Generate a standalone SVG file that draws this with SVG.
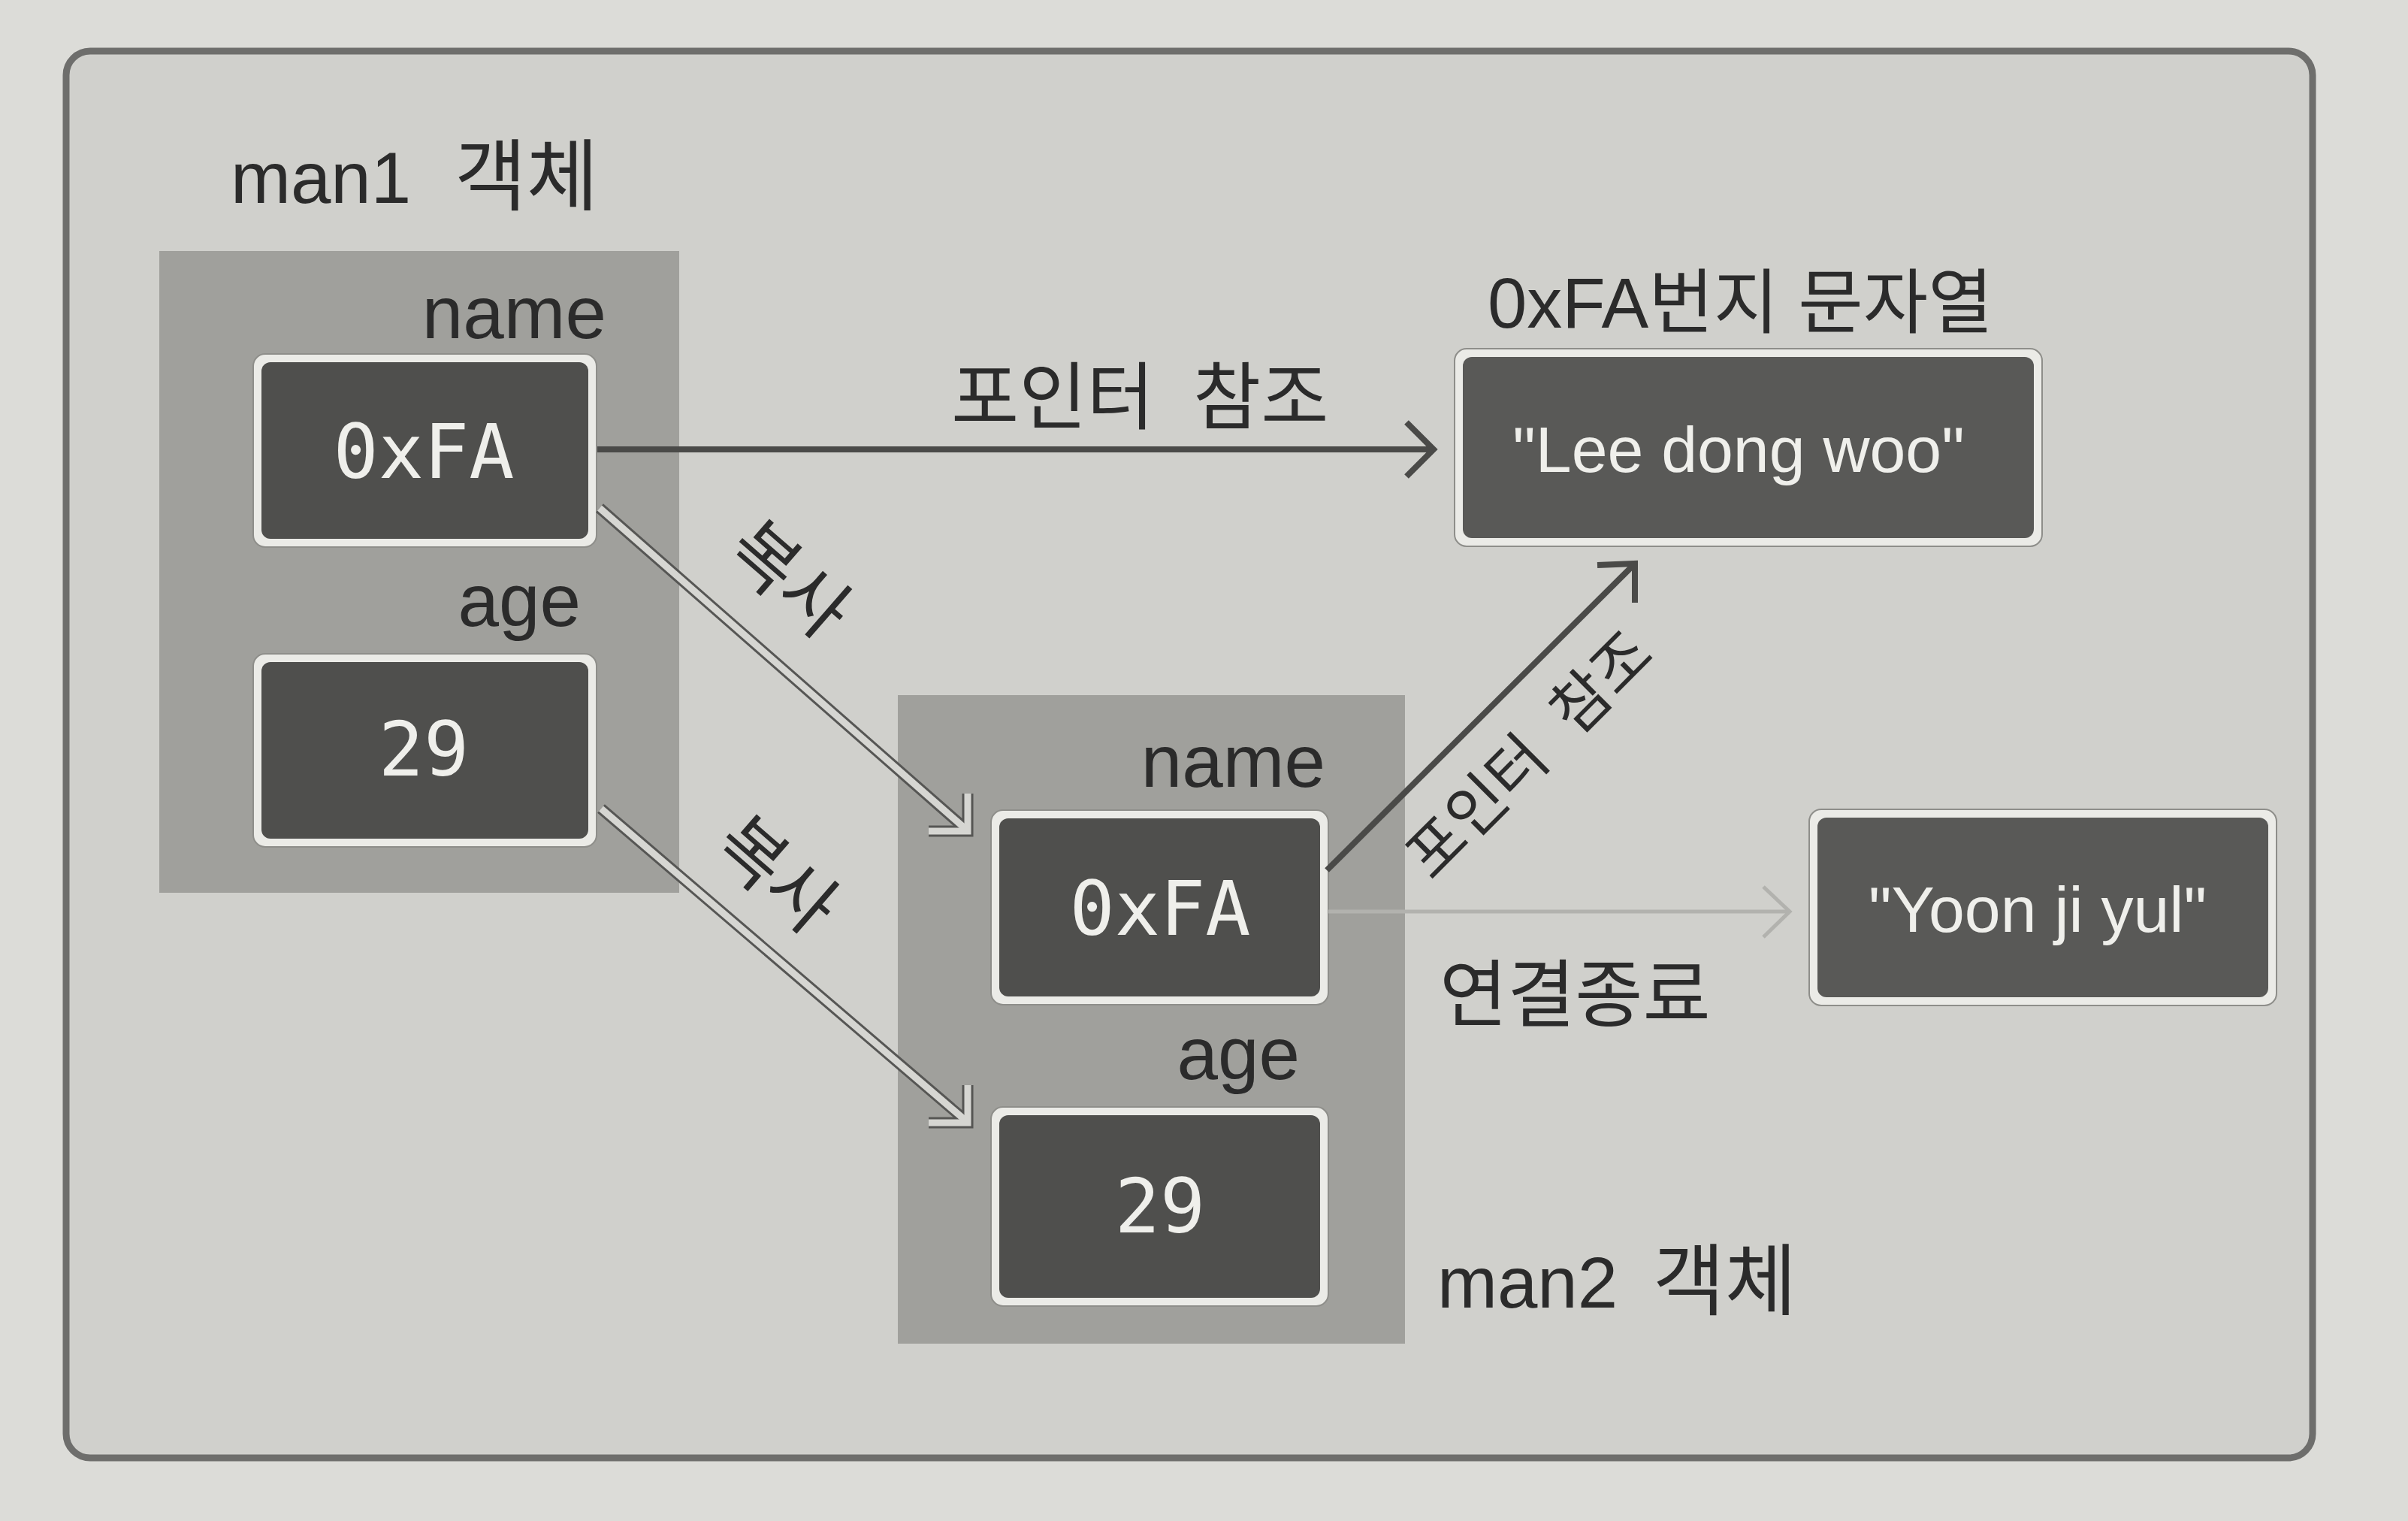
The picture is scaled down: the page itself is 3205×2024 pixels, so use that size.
<svg xmlns="http://www.w3.org/2000/svg" width="3205" height="2024" viewBox="0 0 3205 2024">
<style>
.lbl{font-family:'Liberation Sans','Noto Sans CJK KR',sans-serif;fill:#2b2b2b}
.kr{font-family:'Noto Sans CJK KR','Liberation Sans',sans-serif;fill:#2b2b2b}
.mono{font-family:'DejaVu Sans Mono','Liberation Mono',monospace;fill:#efefeb;font-size:100px;text-anchor:middle}
.str{font-family:'Liberation Sans',sans-serif;fill:#efefeb;font-size:86px;text-anchor:middle}
.obj{fill:#a0a09c}
.vo{fill:#ebebe7;stroke:#8e8e8a;stroke-width:2}
.vi{fill:#4f4f4d}
.si{fill:#595957}
.ptr{fill:none;stroke:#4a4a48;stroke-width:8;stroke-linejoin:miter}
.cpo{fill:none;stroke:#565654;stroke-width:15;stroke-linejoin:miter;stroke-linecap:butt}
.cpi{fill:none;stroke:#d6d6d2;stroke-width:9;stroke-linejoin:miter;stroke-linecap:butt}
.brk{fill:none;stroke:#b2b2ae;stroke-width:5}
</style>
<rect x="0" y="0" width="3205" height="2024" fill="#dcdcd8"/>
<rect x="88" y="68" width="2990" height="1872" rx="32" fill="#d0d0cc" stroke="#6e6e6c" stroke-width="9"/>

<g id="man1">
  <text class="lbl" x="307" y="270" font-size="96">man1</text>
  <text class="kr" x="605" y="272" font-size="104">객체</text>
  <rect class="obj" x="212" y="334" width="692" height="854"/>
  <text class="lbl" x="807" y="450" font-size="98" text-anchor="end">name</text>
  <text class="lbl" x="773" y="833" font-size="98" text-anchor="end">age</text>
</g>
<g id="man1-name">
  <rect class="vo" x="337" y="471" width="457" height="257" rx="16"/>
  <rect class="vi" x="348" y="482" width="435" height="235" rx="12"/>
  <text class="mono" x="564" y="636">0xFA</text>
</g>
<g id="man1-age">
  <rect class="vo" x="337" y="870" width="457" height="257" rx="16"/>
  <rect class="vi" x="348" y="881" width="435" height="235" rx="12"/>
  <text class="mono" x="564" y="1032">29</text>
</g>

<g id="man2">
  <rect class="obj" x="1195" y="925" width="675" height="863"/>
  <text class="lbl" x="1764" y="1047" font-size="98" text-anchor="end">name</text>
  <text class="lbl" x="1730" y="1436" font-size="98" text-anchor="end">age</text>
  <text class="lbl" x="1913" y="1740" font-size="96">man2</text>
  <text class="kr" x="2200" y="1742" font-size="104">객체</text>
</g>
<g id="man2-name">
  <rect class="vo" x="1319" y="1078" width="449" height="259" rx="16"/>
  <rect class="vi" x="1330" y="1089" width="427" height="237" rx="12"/>
  <text class="mono" x="1544" y="1244">0xFA</text>
</g>
<g id="man2-age">
  <rect class="vo" x="1319" y="1473" width="449" height="265" rx="16"/>
  <rect class="vi" x="1330" y="1484" width="427" height="243" rx="12"/>
  <text class="mono" x="1544" y="1640">29</text>
</g>

<g id="str-lee">
  <text class="lbl" x="1980" y="436" font-size="94">0xFA번지 문자열</text>
  <rect class="vo" x="1936" y="464" width="782" height="263" rx="16"/>
  <rect class="si" x="1947" y="475" width="760" height="241" rx="12"/>
  <text class="str" x="2314" y="628">"Lee dong woo"</text>
</g>
<g id="str-yoon">
  <rect class="vo" x="2408" y="1077" width="622" height="261" rx="16"/>
  <rect class="si" x="2419" y="1088" width="600" height="239" rx="12"/>
  <text class="str" x="2712" y="1240">"Yoon ji yul"</text>
</g>

<g id="connectors">
  <!-- pointer from man1.name -->
  <line class="ptr" x1="795" y1="598" x2="1906" y2="598"/>
  <polyline class="ptr" points="1872,562 1908,598 1872,634"/>
  <text class="kr" font-size="98" y="563"><tspan x="1266">포인터</tspan><tspan x="1588">참조</tspan></text>

  <!-- copy arrows -->
  <line class="cpo" x1="798" y1="676" x2="1284" y2="1102"/>
  <polyline class="cpo" points="1288,1056 1288,1106 1236,1106"/>
  <line class="cpi" x1="798" y1="676" x2="1284" y2="1102"/>
  <polyline class="cpi" points="1288,1056 1288,1106 1236,1106"/>
  <text class="kr" font-size="96" text-anchor="middle" transform="translate(1050,772) rotate(41)" x="0" y="33">복사</text>

  <line class="cpo" x1="800" y1="1076" x2="1284" y2="1490"/>
  <polyline class="cpo" points="1288,1444 1288,1494 1236,1494"/>
  <line class="cpi" x1="800" y1="1076" x2="1284" y2="1490"/>
  <polyline class="cpi" points="1288,1444 1288,1494 1236,1494"/>
  <text class="kr" font-size="96" text-anchor="middle" transform="translate(1033,1165) rotate(41)" x="0" y="33">복사</text>

  <!-- pointer from man2.name -->
  <line class="ptr" x1="1766" y1="1158" x2="2172" y2="754"/>
  <polyline class="ptr" points="2126,752 2176,750 2176,802"/>
  <text class="kr" font-size="82" transform="translate(2040,1000) rotate(-45)" y="28"><tspan x="-218">포인터</tspan><tspan x="54">참조</tspan></text>

  <!-- broken link -->
  <line class="brk" x1="1768" y1="1213" x2="2380" y2="1213"/>
  <polyline class="brk" points="2347,1180 2382,1213 2347,1247" stroke-width="4"/>
  <text class="kr" x="1916" y="1358" font-size="98">연결종료</text>
</g>
</svg>
